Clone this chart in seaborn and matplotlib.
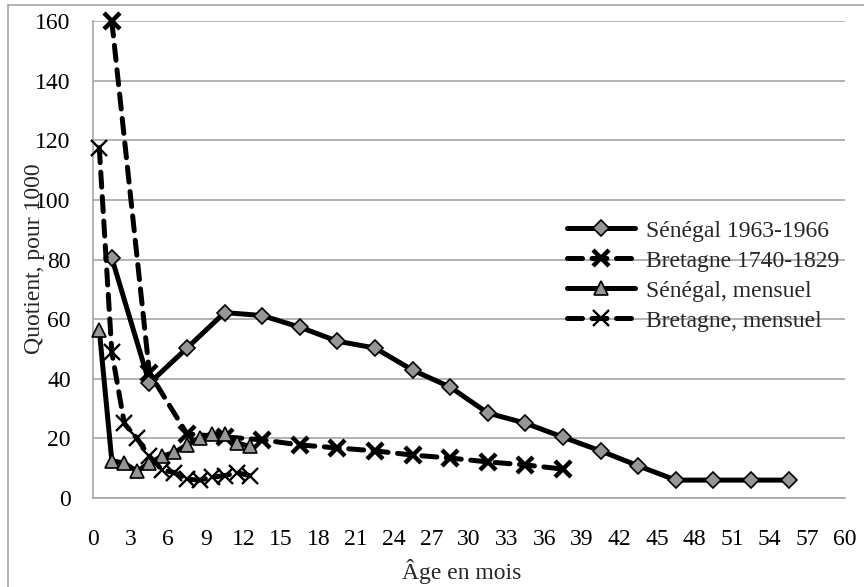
import matplotlib
matplotlib.use('Agg')
import matplotlib.pyplot as plt
from matplotlib.lines import Line2D
import seaborn as sns

# quotients de mortalité, pour 1000
sen_age = [1.5, 4.5, 7.5, 10.5, 13.5, 16.5, 19.5, 22.5, 25.5, 28.5,
           31.5, 34.5, 37.5, 40.5, 43.5, 46.5, 49.5, 52.5, 55.5]
sen_q = [80.5, 38.5, 50.3, 62.2, 61.2, 57.3, 52.6, 50.3, 42.9, 37.2,
         28.5, 25.1, 20.4, 15.8, 10.8, 6.0, 6.0, 6.0, 6.0]

bre_age = [1.5, 4.5, 7.5, 10.5, 13.5, 16.5, 19.5, 22.5, 25.5, 28.5,
           31.5, 34.5, 37.5]
bre_q = [160.0, 42.0, 21.5, 20.5, 19.5, 17.8, 16.8, 15.8, 14.4, 13.4,
         12.1, 11.1, 9.7]

mois_age = [0.5, 1.5, 2.5, 3.5, 4.5, 5.5, 6.5, 7.5, 8.5, 9.5, 10.5, 11.5, 12.5]
sen_mens_q = [56.5, 12.5, 11.7, 9.0, 11.7, 14.0, 15.3, 17.8, 20.2, 21.5,
              21.5, 18.5, 17.3]
bre_mens_q = [117.5, 49.0, 25.0, 20.0, 14.0, 9.5, 8.5, 6.3, 6.0, 7.0,
              7.5, 8.5, 7.5]

x_ticks = list(range(0, 61, 3))
y_ticks = list(range(0, 161, 20))

sns.set_style("white")
plt.rcParams['font.family'] = ['Liberation Serif', 'DejaVu Serif']
plt.rcParams['font.size'] = 17

GRID = '#a6a6a6'
FILL = '#969696'
DASH = (0, (3.0, 1.9))

W, H = 864, 587
fig = plt.figure(figsize=(W / 100, H / 100), dpi=100)
ax = fig.add_axes([93 / W, 1 - 498 / H, (845 - 93) / W, (498 - 21) / H])

sns.lineplot(x=sen_age, y=sen_q, ax=ax, color='black', lw=3.6,
             marker='D', ms=8, mfc=FILL, mec='black', mew=1.2,
             label='Sénégal 1963-1966', zorder=3, clip_on=False)
sns.lineplot(x=bre_age, y=bre_q, ax=ax, color='black', lw=3.6,
             linestyle=DASH, dash_capstyle='round',
             marker='x', ms=11, mew=3.2, mec='black',
             label='Bretagne 1740-1829', zorder=4, clip_on=False)
sns.lineplot(x=mois_age, y=sen_mens_q, ax=ax, color='black', lw=3.6,
             marker='^', ms=10.5, mfc=FILL, mec='black', mew=1.2,
             label='Sénégal, mensuel', zorder=5, clip_on=False)
sns.lineplot(x=mois_age, y=bre_mens_q, ax=ax, color='black', lw=3.6,
             linestyle=DASH, dash_capstyle='round',
             marker='x', ms=11, mew=1.7, mec='black',
             label='Bretagne, mensuel', zorder=6, clip_on=False)

ax.set_xlim(0, 60)
ax.set_ylim(0, 160)
ax.set_xticks(x_ticks)
ax.set_yticks(y_ticks)
ax.grid(axis='y', color=GRID, lw=1.2)
ax.set_axisbelow(True)
for side in ['top', 'right']:
    ax.spines[side].set_visible(False)
for side in ['left', 'bottom']:
    ax.spines[side].set_color(GRID)
    ax.spines[side].set_linewidth(1.2)
ax.tick_params(axis='both', direction='out', length=5, width=1.2,
               color=GRID, labelsize=17, labelcolor='black')
ax.tick_params(axis='x', pad=17)
ax.tick_params(axis='y', pad=11)
ax.set_xlabel('')
ax.set_ylabel('')

fig.text(462 / W, 1 - 571 / H, 'Âge en mois', ha='center', va='center',
         fontsize=17)
fig.text(35 / W, 1 - 259 / H, 'Quotient, pour 1000', ha='center',
         va='center', rotation=90, fontsize=17)

ax.legend(loc='upper left', bbox_to_anchor=(567 / W, 1 - 220 / H),
          bbox_transform=fig.transFigure, frameon=False, fontsize=17,
          handlelength=2.9, handletextpad=0.45, labelspacing=0.36,
          borderpad=0, borderaxespad=0)

# cadre du graphique (bords gauche et haut visibles)
fig.add_artist(Line2D([8 / W, 8 / W], [0, 1 - 5 / H], color=GRID, lw=1.2))
fig.add_artist(Line2D([8 / W, 1], [1 - 5 / H, 1 - 5 / H], color=GRID, lw=1.2))

fig.savefig('out.png', dpi=100)
plt.close(fig)
